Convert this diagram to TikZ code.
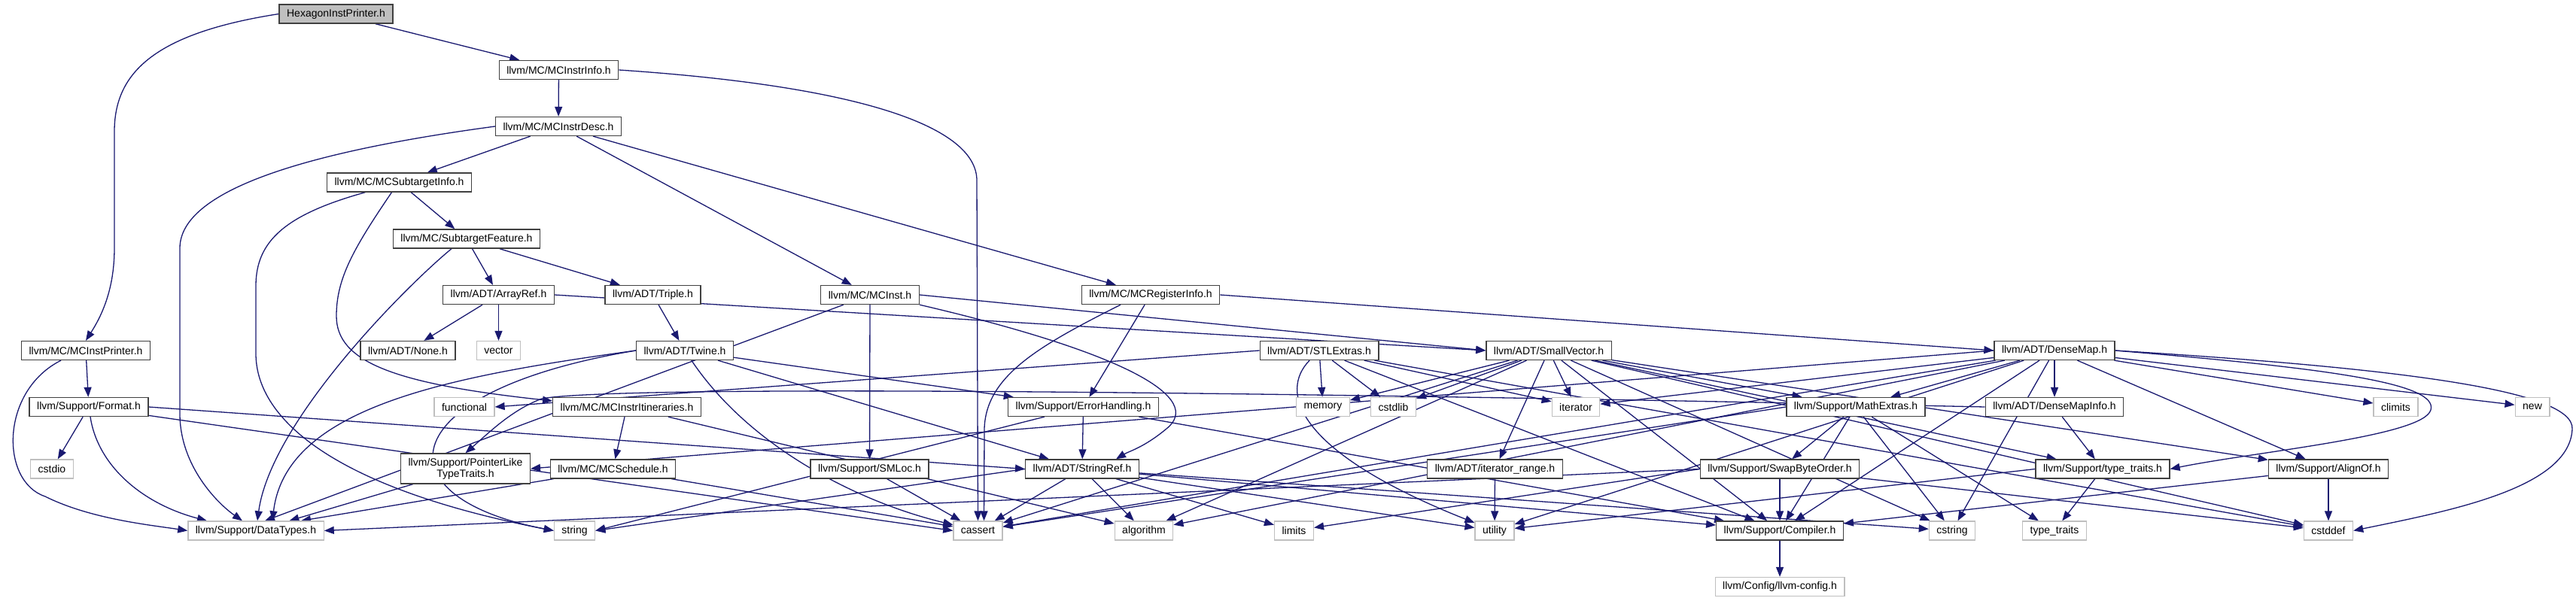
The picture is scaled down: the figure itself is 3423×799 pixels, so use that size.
\documentclass[tikz,border=0pt]{standalone}
\usepackage{fontspec}
\setmainfont{Liberation Sans}
\usetikzlibrary{arrows.meta}
\definecolor{edgeblue}{HTML}{191970}
\definecolor{boxgray}{HTML}{BFBFBF}
\definecolor{boxline}{HTML}{404040}
\pgfdeclarelayer{edges}
\pgfsetlayers{edges,main}

\begin{document}
\begin{tikzpicture}[x=1pt,y=-1pt,
  hdr/.style={draw=boxline, line width=1.3pt, fill=white, inner xsep=10pt, inner ysep=0pt,
    minimum height=25pt, font=\fontsize{14}{16}\selectfont},
  sys/.style={hdr, draw=boxgray},
  root/.style={hdr, fill=boxgray},
  dep/.style={draw=edgeblue, line width=1.3pt, -{Triangle[length=13pt,width=10pt]}}]
\useasboundingbox (0,0) rectangle (3423,799);
% headers
\node[root] (hex) at (446.5,18.5) {HexagonInstPrinter.h};
\node[hdr] (mcinstrinfo) at (742.5,93) {llvm/MC/MCInstrInfo.h};
\node[hdr] (mcinstrdesc) at (742,168) {llvm/MC/MCInstrDesc.h};
\node[hdr] (mcsubinfo) at (530.5,242.5) {llvm/MC/MCSubtargetInfo.h};
\node[hdr] (subfeat) at (620,317.5) {llvm/MC/SubtargetFeature.h};
\node[hdr] (arrayref) at (662.5,392) {llvm/ADT/ArrayRef.h};
\node[hdr] (triple) at (867.5,392) {llvm/ADT/Triple.h};
\node[hdr] (mcinst) at (1156,392) {llvm/MC/MCInst.h};
\node[hdr] (mcreginfo) at (1529,392) {llvm/MC/MCRegisterInfo.h};
\node[hdr] (mcinstprinter) at (114,466) {llvm/MC/MCInstPrinter.h};
\node[hdr] (none) at (542,466) {llvm/ADT/None.h};
\node[sys] (vector) at (662.5,466) {vector};
\node[hdr] (twine) at (910,466) {llvm/ADT/Twine.h};
\node[hdr] (stlextras) at (1753,466) {llvm/ADT/STLExtras.h};
\node[hdr] (smallvec) at (2058,466) {llvm/ADT/SmallVector.h};
\node[hdr] (densemap) at (2730,466) {llvm/ADT/DenseMap.h};
\node[hdr] (format) at (118,541) {llvm/Support/Format.h};
\node[sys] (functional) at (617,541) {functional};
\node[hdr] (mcitin) at (833,541) {llvm/MC/MCInstrItineraries.h};
\node[hdr] (errhandling) at (1439.5,541) {llvm/Support/ErrorHandling.h};
\node[sys] (memory) at (1758,541) {memory};
\node[sys] (cstdlib) at (1851.5,541) {cstdlib};
\node[sys] (iterator) at (2094,541) {iterator};
\node[hdr] (mathextras) at (2466,541) {llvm/Support/MathExtras.h};
\node[hdr] (densemapinfo) at (2730,541) {llvm/ADT/DenseMapInfo.h};
\node[sys] (climits) at (3183.5,541) {climits};
\node[sys] (cnew) at (3365,541) {new};
\node[sys] (cstdio) at (69,623.5) {cstdio};
\node[hdr, align=center, font=\fontsize{14}{15}\selectfont, minimum height=40pt] (ptrlike) at (618.5,623) {llvm/Support/PointerLike\\TypeTraits.h};
\node[hdr] (mcsched) at (814.5,623.5) {llvm/MC/MCSchedule.h};
\node[hdr] (smloc) at (1155.5,623.5) {llvm/Support/SMLoc.h};
\node[hdr] (stringref) at (1438,623.5) {llvm/ADT/StringRef.h};
\node[hdr] (iterrange) at (1986.5,623.5) {llvm/ADT/iterator\_range.h};
\node[hdr] (swapbyte) at (2365,623.5) {llvm/Support/SwapByteOrder.h};
\node[hdr] (llvmtt) at (2794,623.5) {llvm/Support/type\_traits.h};
\node[hdr] (alignof) at (3094,623.5) {llvm/Support/AlignOf.h};
\node[sys] (datatypes) at (340,705.5) {llvm/Support/DataTypes.h};
\node[sys] (string) at (763.5,705.5) {string};
\node[sys] (cassert) at (1299.5,705.5) {cassert};
\node[sys] (algorithm) at (1520,705.5) {algorithm};
\node[sys] (limits) at (1719.5,705.5) {limits};
\node[sys] (utility) at (1986,705.5) {utility};
\node[hdr] (compiler) at (2365,705.5) {llvm/Support/Compiler.h};
\node[sys] (cstring) at (2594,705.5) {cstring};
\node[sys] (stdtt) at (2730,705.5) {type\_traits};
\node[sys] (cstddef) at (3094,705.5) {cstddef};
\node[sys] (llvmconfig) at (2365,780) {llvm/Config/llvm-config.h};
% includes
\begin{pgfonlayer}{edges}
\draw[dep] (hex.west) .. controls (200,45) and (152,100) .. (152,175) -- (152,330) .. controls (152,385) and (135,420) .. (mcinstprinter.north);
\draw[dep] (hex) -- (mcinstrinfo);
\draw[dep] (mcinstrinfo) -- (mcinstrdesc);
\draw[dep] (mcinstrinfo.east) .. controls (1150,115) and (1298,170) .. (1298,240) -- (cassert.north);
\draw[dep] (mcinstrdesc.west) .. controls (420,200) and (239,250) .. (239,330) -- (239,550) .. controls (239,620) and (290,670) .. ([xshift=-18pt]datatypes.north);
\draw[dep] (mcinstrdesc) -- (mcsubinfo);
\draw[dep] (mcinstrdesc) -- (mcinst);
\draw[dep] (mcinstrdesc) -- (mcreginfo);
\draw[dep] (mcsubinfo) -- (subfeat);
\draw[dep] ([xshift=-10pt]mcsubinfo.south) .. controls (470,330) and (447,370) .. (447,420) .. controls (447,480) and (520,510) .. ([yshift=8pt]mcitin.west);
\draw[dep] ([xshift=-45pt]mcsubinfo.south) .. controls (380,285) and (340,320) .. (340,380) -- (340,470) .. controls (340,560) and (450,650) .. (string.west);
\draw[dep] (subfeat) -- (arrayref);
\draw[dep] (subfeat) -- (triple);
\draw[dep] ([xshift=-20pt]subfeat.south) .. controls (540,380) and (360,560) .. ([xshift=2pt]datatypes.north);
\draw[dep] (arrayref) -- (none);
\draw[dep] (arrayref) -- (vector);
\draw[dep] (arrayref.east) -- (smallvec.west);
\draw[dep] (triple) -- (twine);
\draw[dep] (mcinst) -- (smloc);
\draw[dep] (mcinst.east) -- (smallvec.west);
\draw[dep] (mcinst.south east) .. controls (1500,470) and (1600,530) .. (1550,570) .. controls (1520,595) and (1500,600) .. ([xshift=45pt]stringref.north);
\draw[dep] (mcinst) -- ([xshift=12pt]datatypes.north);
\draw[dep] (mcreginfo.east) -- (densemap.west);
\draw[dep] (mcreginfo) -- (errhandling);
\draw[dep] ([xshift=-40pt]mcreginfo.south) .. controls (1380,460) and (1310,500) .. (1308,570) -- ([xshift=8pt]cassert.north);
\draw[dep] (mcinstprinter) -- (format);
\draw[dep] ([xshift=-33pt]mcinstprinter.south) .. controls (0,520) and (0,640) .. (60,660) .. controls (120,690) and (200,698) .. (datatypes.west);
\draw[dep] (format) -- (cstdio);
\draw[dep] (format) .. controls (130,620) and (190,670) .. ([xshift=-65pt]datatypes.north);
\draw[dep] (format.east) -- (stringref.west);
\draw[dep] (format) -- (cassert.west);
\draw[dep] (twine) -- (stringref);
\draw[dep] (twine.west) .. controls (600,500) and (380,540) .. ([xshift=22pt]datatypes.north);
\draw[dep] (twine) -- (errhandling);
\draw[dep] (twine) .. controls (1000,600) and (1150,670) .. (cassert);
\draw[dep] (twine.west) .. controls (520,520) and (500,660) .. (string.west);
\draw[dep] (mcitin) -- (mcsched);
\draw[dep] (mcitin) -- (algorithm);
\draw[dep] (mcsched) -- ([xshift=60pt]datatypes.north);
\draw[dep] (mcsched) -- (cassert);
\draw[dep] (smloc) -- (cassert);
\draw[dep] (errhandling) -- (stringref);
\draw[dep] (errhandling) -- (compiler);
\draw[dep] (errhandling) -- (string.east);
\draw[dep] (stringref) -- (compiler);
\draw[dep] (stringref) -- (algorithm);
\draw[dep] (stringref) -- (cassert);
\draw[dep] (stringref) -- (cstring);
\draw[dep] (stringref) -- (limits);
\draw[dep] (stringref.west) -- (string.east);
\draw[dep] (stringref) -- (utility);
\draw[dep] (stlextras) -- (compiler);
\draw[dep] (stlextras) -- (cstddef);
\draw[dep] (stlextras) -- (cstdlib);
\draw[dep] (stlextras.west) -- (functional.east);
\draw[dep] (stlextras) -- (iterator);
\draw[dep] (stlextras) -- (memory);
\draw[dep] (stlextras) .. controls (1700,520) and (1720,600) .. (utility);
\draw[dep] (smallvec) -- (iterrange);
\draw[dep] (smallvec) -- (alignof);
\draw[dep] (smallvec) -- (compiler);
\draw[dep] (smallvec) -- (mathextras);
\draw[dep] (smallvec) -- (llvmtt);
\draw[dep] (smallvec) -- (algorithm);
\draw[dep] (smallvec) -- (cassert);
\draw[dep] (smallvec) -- (cstddef);
\draw[dep] (smallvec) -- (cstdlib);
\draw[dep] (smallvec) -- (cstring);
\draw[dep] (smallvec) -- (iterator);
\draw[dep] (smallvec) -- (memory);
\draw[dep] (densemap) -- (densemapinfo);
\draw[dep] (densemap) -- (alignof);
\draw[dep] (densemap) -- (compiler);
\draw[dep] (densemap) -- (mathextras);
\draw[dep] (densemap.west) -- (ptrlike.east);
\draw[dep] (densemap.east) .. controls (3100,490) and (3240,510) .. (3230,545) .. controls (3220,580) and (3000,600) .. (llvmtt.east);
\draw[dep] (densemap) -- (algorithm);
\draw[dep] (densemap) -- (cassert);
\draw[dep] (densemap) -- (climits);
\draw[dep] (densemap.east) .. controls (3200,490) and (3420,520) .. (3418,570) .. controls (3415,650) and (3250,680) .. (cstddef.east);
\draw[dep] (densemap) -- (cstring);
\draw[dep] (densemap) -- (iterator);
\draw[dep] (densemap) -- (cnew);
\draw[dep] (densemap) -- (utility);
\draw[dep] (densemapinfo.west) .. controls (1400,515) and (800,515) .. (720,530) .. controls (680,545) and (650,575) .. (ptrlike.north);
\draw[dep] (densemapinfo) -- (llvmtt);
\draw[dep] (mathextras) -- (compiler);
\draw[dep] (mathextras) -- (swapbyte);
\draw[dep] (mathextras.west) -- (cassert);
\draw[dep] (mathextras) -- (cstring);
\draw[dep] (mathextras) -- (stdtt);
\draw[dep] (swapbyte) -- (compiler);
\draw[dep] (swapbyte.west) -- (datatypes.east);
\draw[dep] (swapbyte) -- (cstddef);
\draw[dep] (swapbyte.west) -- (limits);
\draw[dep] (llvmtt) -- (stdtt);
\draw[dep] (llvmtt.west) -- (utility);
\draw[dep] (alignof) -- (compiler);
\draw[dep] (alignof) -- (cstddef);
\draw[dep] (compiler) -- (llvmconfig);
\draw[dep] (ptrlike) -- (datatypes);
\draw[dep] (iterrange) -- (utility);
\end{pgfonlayer}
\end{tikzpicture}
\end{document}
